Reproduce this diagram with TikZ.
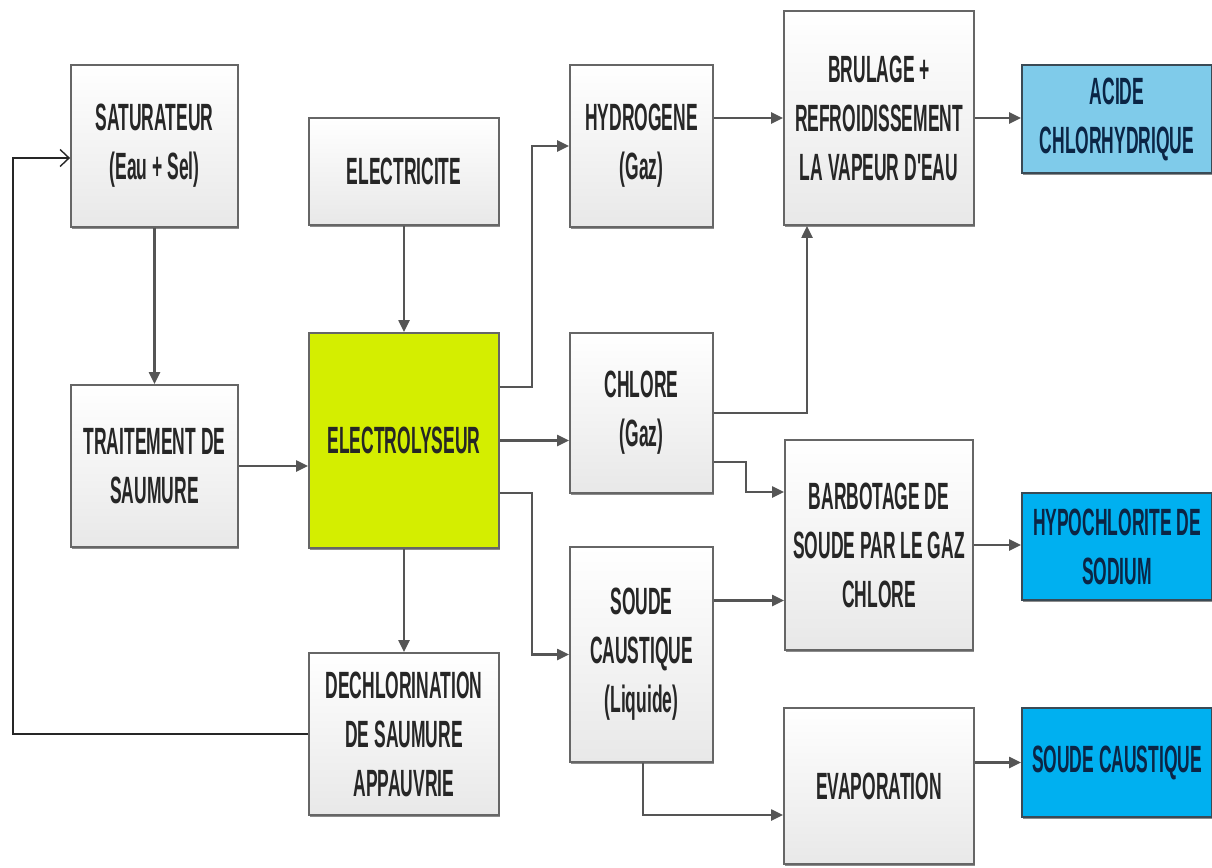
\documentclass[tikz,border=0pt]{standalone}
\usepackage{fontspec}
\setmainfont{Liberation Sans}[FakeStretch=0.46, Ligatures=TeXOff]
\usetikzlibrary{arrows.meta,shadows}
\definecolor{boxline}{HTML}{666666}
\definecolor{boxtext}{HTML}{262626}
\definecolor{arrcol}{HTML}{555555}
\definecolor{elyfill}{HTML}{D4EE00}
\definecolor{acidefill}{HTML}{7FCBEA}
\definecolor{prodfill}{HTML}{00B0F0}
\definecolor{prodline}{HTML}{3A4A55}
\definecolor{prodtext}{HTML}{0B2545}
\tikzset{
  box/.style={draw=boxline, line width=1.8pt, top color=white, bottom color=black!9,
    align=center, inner sep=2pt, text=boxtext,
    font=\fontsize{38}{49}\selectfont\bfseries,
    drop shadow={shadow xshift=0.6pt, shadow yshift=-1.8pt, opacity=0.45, fill=black}},
  elybox/.style={box, top color=elyfill, bottom color=elyfill, text=black!85},
  acidebox/.style={box, draw=prodline, top color=acidefill, bottom color=acidefill, text=prodtext},
  prodbox/.style={box, draw=prodline, top color=prodfill, bottom color=prodfill, text=prodtext},
  arr/.style={draw=arrcol, line width=2.2pt, -{Triangle[length=12pt,width=11pt]}},
  fb/.style={draw=black!85, line width=1.4pt, -{Straight Barb[length=9pt,width=17pt,line width=1.4pt]}}
}
\begin{document}
\begin{tikzpicture}[x=1pt,y=-1pt]
\useasboundingbox (0,0) rectangle (1212,867);
\fill[white] (0,0) rectangle (1212,867);

\node[box, minimum width=167pt, minimum height=162pt] (sat) at (154.5,146) {SATURATEUR\\(Eau + Sel)};
\node[box, minimum width=167pt, minimum height=162pt] (trait) at (154.5,466) {TRAITEMENT DE\\SAUMURE};
\node[box, minimum width=190pt, minimum height=107pt] (elec) at (404,171.5) {ELECTRICITE};
\node[elybox, minimum width=190pt, minimum height=215pt] (ely) at (404,440.5) {ELECTROLYSEUR};
\node[box, minimum width=190pt, minimum height=162pt] (dech) at (404,734) {DECHLORINATION\\DE SAUMURE\\APPAUVRIE};
\node[box, minimum width=143pt, minimum height=162pt] (hyd) at (641.5,146) {HYDROGENE\\(Gaz)};
\node[box, minimum width=143pt, minimum height=160pt] (chl) at (641.5,413) {CHLORE\\(Gaz)};
\node[box, minimum width=143pt, minimum height=215pt] (sou) at (641.5,654.5) {SOUDE\\CAUSTIQUE\\(Liquide)};
\node[box, minimum width=190pt, minimum height=214pt] (bru) at (879,118) {BRULAGE +\\REFROIDISSEMENT\\LA VAPEUR D'EAU};
\node[box, minimum width=188pt, minimum height=210pt] (bar) at (879,545) {BARBOTAGE DE\\SOUDE PAR LE GAZ\\CHLORE};
\node[box, minimum width=190pt, minimum height=156pt] (eva) at (879,786) {EVAPORATION};
\node[acidebox, minimum width=190pt, minimum height=108pt] (acide) at (1117,119) {ACIDE\\CHLORHYDRIQUE};
\node[prodbox, minimum width=190pt, minimum height=107pt] (hypo) at (1117,546.5) {HYPOCHLORITE DE\\SODIUM};
\node[prodbox, minimum width=190pt, minimum height=109pt] (scp) at (1117,762.5) {SOUDE CAUSTIQUE};

\coordinate (fbA) at (13,734);
\coordinate (fbB) at (13,158);
\coordinate (j1) at (532,387);
\coordinate (j2) at (532,493);
\coordinate (j3) at (746,462);

\draw[arr] (sat.south) -- (trait.north);
\draw[arr] (elec.south) -- (ely.north);
\draw[arr] (trait.east) -- (trait.east -| ely.west);
\draw[arr] (ely.south) -- (dech.north);
\draw[arr] (ely.east |- j1) -- (j1) |- (hyd.west);
\draw[arr] (ely.east) -- (ely.east -| chl.west);
\draw[arr] (ely.east |- j2) -- (j2) |- (sou.west);
\draw[arr] (bru.west -| hyd.east) -- (bru.west);
\draw[arr] (bru.east) -- (bru.east -| acide.west);
\draw[arr] (chl.east) -| ([xshift=-72pt]bru.south);
\draw[arr] (chl.east |- j3) -- (j3) |- ([yshift=53pt]bar.west);
\draw[arr] ([yshift=54pt]sou.east) -- ([yshift=54pt]sou.east -| bar.west);
\draw[arr] (bar.east) -- (bar.east -| hypo.west);
\draw[arr] ([xshift=1.5pt]sou.south) |- ([yshift=-29pt]eva.west);
\draw[arr] (scp.west -| eva.east) -- (scp.west);
\draw[fb] (dech.west) -- (fbA) -- (fbB) -- (fbB -| sat.west);
\end{tikzpicture}
\end{document}
